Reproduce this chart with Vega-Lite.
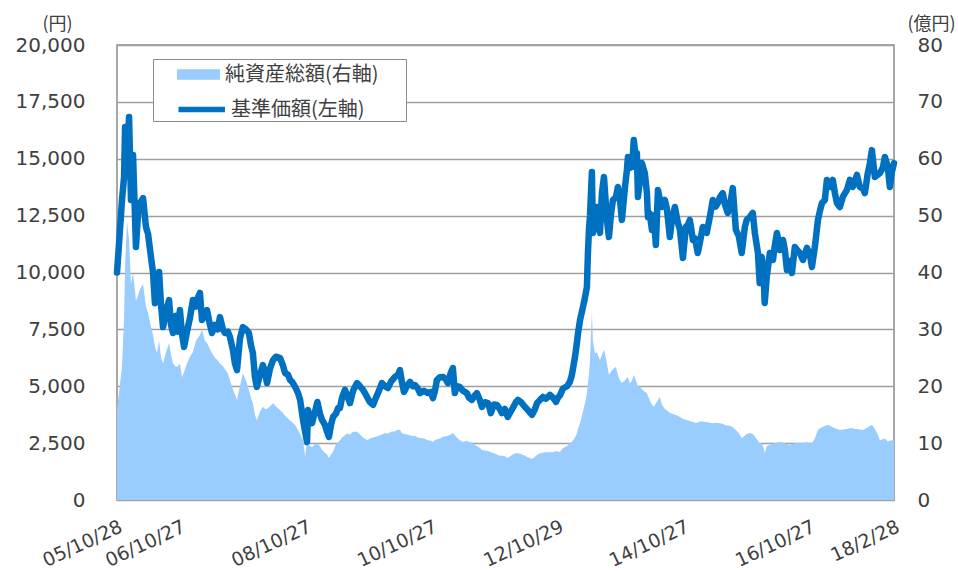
{
  "$schema": "https://vega.github.io/schema/vega-lite/v6.json",
  "width": 777,
  "height": 455,
  "autosize": {"type": "none"},
  "padding": {"left": 117, "top": 45, "right": 64, "bottom": 72},
  "background": "white",
  "config": {
    "view": {"stroke": "#8C8C8C", "strokeWidth": 1.5},
    "axis": {"labelFont": "DejaVu Sans", "labelColor": "#404040", "titleFont": "Noto Sans CJK JP", "titleColor": "#404040", "titleFontWeight": "normal"},
    "legend": {"labelFont": "Noto Sans CJK JP", "labelColor": "#404040"}
  },
  "data": {"values": [
    {"d":"2005-10-28","nav":10000,"assets":15.8},
    {"d":"2005-11-09","nav":11300,"assets":19},
    {"d":"2005-11-26","nav":13190,"assets":23.4},
    {"d":"2005-12-08","nav":14200,"assets":32},
    {"d":"2005-12-14","nav":16400,"assets":41},
    {"d":"2005-12-25","nav":15000,"assets":49},
    {"d":"2006-01-06","nav":16840,"assets":45.7},
    {"d":"2006-01-17","nav":13190,"assets":38},
    {"d":"2006-01-29","nav":15160,"assets":40},
    {"d":"2006-02-15","nav":11120,"assets":35},
    {"d":"2006-02-27","nav":12600,"assets":36},
    {"d":"2006-03-10","nav":13050,"assets":37},
    {"d":"2006-03-28","nav":13270,"assets":38},
    {"d":"2006-04-14","nav":12000,"assets":34},
    {"d":"2006-04-26","nav":11700,"assets":33},
    {"d":"2006-05-13","nav":10680,"assets":30.4},
    {"d":"2006-05-25","nav":10000,"assets":29},
    {"d":"2006-06-05","nav":8650,"assets":27},
    {"d":"2006-06-17","nav":9200,"assets":25.8},
    {"d":"2006-06-29","nav":10020,"assets":28},
    {"d":"2006-07-10","nav":8600,"assets":25},
    {"d":"2006-07-22","nav":7600,"assets":24},
    {"d":"2006-08-08","nav":8300,"assets":26},
    {"d":"2006-08-26","nav":8790,"assets":27.6},
    {"d":"2006-09-06","nav":7700,"assets":25.5},
    {"d":"2006-09-18","nav":7340,"assets":24},
    {"d":"2006-10-05","nav":8100,"assets":23.4},
    {"d":"2006-10-17","nav":7400,"assets":23.5},
    {"d":"2006-10-28","nav":8350,"assets":24},
    {"d":"2006-11-09","nav":7300,"assets":21.6},
    {"d":"2006-11-21","nav":6730,"assets":22.5},
    {"d":"2006-12-08","nav":7400,"assets":24},
    {"d":"2006-12-25","nav":8000,"assets":25.2},
    {"d":"2007-01-11","nav":8790,"assets":26},
    {"d":"2007-01-29","nav":8500,"assets":28},
    {"d":"2007-02-09","nav":8900,"assets":28.5},
    {"d":"2007-02-21","nav":9100,"assets":29},
    {"d":"2007-03-05","nav":7910,"assets":30},
    {"d":"2007-03-22","nav":8100,"assets":28},
    {"d":"2007-04-03","nav":8350,"assets":27.6},
    {"d":"2007-04-20","nav":7700,"assets":26.5},
    {"d":"2007-05-02","nav":7340,"assets":25.8},
    {"d":"2007-05-19","nav":7700,"assets":25},
    {"d":"2007-06-05","nav":7500,"assets":24.5},
    {"d":"2007-06-17","nav":8040,"assets":24},
    {"d":"2007-07-04","nav":7500,"assets":23.5},
    {"d":"2007-07-16","nav":7340,"assets":23},
    {"d":"2007-08-02","nav":7400,"assets":22.3},
    {"d":"2007-08-14","nav":7170,"assets":21},
    {"d":"2007-08-31","nav":6600,"assets":19.5},
    {"d":"2007-09-12","nav":6000,"assets":18.5},
    {"d":"2007-09-24","nav":5710,"assets":17.6},
    {"d":"2007-10-11","nav":7100,"assets":20},
    {"d":"2007-10-28","nav":7600,"assets":22.3},
    {"d":"2007-11-15","nav":7500,"assets":21},
    {"d":"2007-12-02","nav":7340,"assets":19.3},
    {"d":"2007-12-14","nav":6800,"assets":18},
    {"d":"2007-12-25","nav":6460,"assets":17},
    {"d":"2008-01-06","nav":5400,"assets":15},
    {"d":"2008-01-17","nav":4970,"assets":14},
    {"d":"2008-02-04","nav":5500,"assets":15.5},
    {"d":"2008-02-21","nav":5930,"assets":16.4},
    {"d":"2008-03-05","nav":5600,"assets":16},
    {"d":"2008-03-16","nav":5140,"assets":16},
    {"d":"2008-04-03","nav":5800,"assets":16.5},
    {"d":"2008-04-20","nav":6150,"assets":17},
    {"d":"2008-05-07","nav":6300,"assets":16.5},
    {"d":"2008-05-31","nav":6240,"assets":15.8},
    {"d":"2008-06-17","nav":5900,"assets":15.3},
    {"d":"2008-06-29","nav":5580,"assets":14.8},
    {"d":"2008-07-16","nav":5500,"assets":14.3},
    {"d":"2008-07-28","nav":5270,"assets":14},
    {"d":"2008-08-08","nav":5200,"assets":13.7},
    {"d":"2008-08-26","nav":4970,"assets":13.2},
    {"d":"2008-09-12","nav":4700,"assets":12.3},
    {"d":"2008-09-24","nav":4400,"assets":11.5},
    {"d":"2008-10-11","nav":3520,"assets":10.5},
    {"d":"2008-10-23","nav":3000,"assets":7.6},
    {"d":"2008-11-03","nav":2550,"assets":10.5},
    {"d":"2008-11-09","nav":3960,"assets":10},
    {"d":"2008-11-21","nav":3500,"assets":9.5},
    {"d":"2008-12-02","nav":3380,"assets":9.3},
    {"d":"2008-12-20","nav":3900,"assets":9.8},
    {"d":"2009-01-02","nav":4310,"assets":10},
    {"d":"2009-01-17","nav":3800,"assets":9.5},
    {"d":"2009-01-29","nav":3520,"assets":8.8},
    {"d":"2009-02-15","nav":3300,"assets":8.3},
    {"d":"2009-02-27","nav":3000,"assets":8},
    {"d":"2009-03-10","nav":2770,"assets":7.4},
    {"d":"2009-03-22","nav":3300,"assets":8},
    {"d":"2009-04-03","nav":3650,"assets":8.5},
    {"d":"2009-04-20","nav":3800,"assets":9.8},
    {"d":"2009-05-02","nav":4040,"assets":10.2},
    {"d":"2009-05-13","nav":4040,"assets":10.5},
    {"d":"2009-05-25","nav":4500,"assets":11},
    {"d":"2009-06-11","nav":4840,"assets":11.4},
    {"d":"2009-06-23","nav":4600,"assets":11.7},
    {"d":"2009-07-10","nav":4260,"assets":11.5},
    {"d":"2009-07-28","nav":4800,"assets":12},
    {"d":"2009-08-20","nav":5140,"assets":12},
    {"d":"2009-09-06","nav":5000,"assets":11.5},
    {"d":"2009-09-24","nav":4840,"assets":11},
    {"d":"2009-10-05","nav":4700,"assets":10.8},
    {"d":"2009-10-17","nav":4530,"assets":10.5},
    {"d":"2009-11-03","nav":4300,"assets":10.8},
    {"d":"2009-11-21","nav":4180,"assets":11},
    {"d":"2009-12-08","nav":4500,"assets":11.1},
    {"d":"2009-12-25","nav":4800,"assets":11.3},
    {"d":"2010-01-11","nav":5140,"assets":11.5},
    {"d":"2010-01-29","nav":5000,"assets":11.8},
    {"d":"2010-02-15","nav":4920,"assets":11.7},
    {"d":"2010-03-05","nav":5200,"assets":12},
    {"d":"2010-03-28","nav":5410,"assets":12.1},
    {"d":"2010-04-14","nav":5500,"assets":12.4},
    {"d":"2010-04-26","nav":5710,"assets":12.3},
    {"d":"2010-05-07","nav":5200,"assets":11.8},
    {"d":"2010-05-19","nav":4750,"assets":11.6},
    {"d":"2010-06-05","nav":5000,"assets":11.5},
    {"d":"2010-06-23","nav":5190,"assets":11.4},
    {"d":"2010-07-10","nav":5000,"assets":11.2},
    {"d":"2010-07-22","nav":5050,"assets":11.3},
    {"d":"2010-08-08","nav":4900,"assets":11},
    {"d":"2010-08-20","nav":4700,"assets":10.9},
    {"d":"2010-09-12","nav":4800,"assets":10.8},
    {"d":"2010-10-05","nav":4700,"assets":10.5},
    {"d":"2010-10-23","nav":4750,"assets":10.4},
    {"d":"2010-11-03","nav":4480,"assets":10.2},
    {"d":"2010-11-15","nav":4800,"assets":10.5},
    {"d":"2010-11-26","nav":5270,"assets":10.7},
    {"d":"2010-12-14","nav":5400,"assets":10.8},
    {"d":"2011-01-01","nav":5410,"assets":11.1},
    {"d":"2011-01-17","nav":5300,"assets":11.2},
    {"d":"2011-01-29","nav":5140,"assets":11.3},
    {"d":"2011-02-15","nav":5600,"assets":11.5},
    {"d":"2011-02-27","nav":5800,"assets":11.8},
    {"d":"2011-03-10","nav":4700,"assets":11.4},
    {"d":"2011-03-22","nav":5000,"assets":11},
    {"d":"2011-04-08","nav":4970,"assets":10.5},
    {"d":"2011-04-26","nav":4800,"assets":10.2},
    {"d":"2011-05-19","nav":4700,"assets":10.4},
    {"d":"2011-05-31","nav":4500,"assets":10.2},
    {"d":"2011-06-17","nav":4400,"assets":10.1},
    {"d":"2011-07-04","nav":4600,"assets":9.7},
    {"d":"2011-07-16","nav":4700,"assets":9.5},
    {"d":"2011-08-02","nav":4400,"assets":9.2},
    {"d":"2011-08-14","nav":4090,"assets":8.8},
    {"d":"2011-08-31","nav":4300,"assets":8.7},
    {"d":"2011-09-18","nav":4260,"assets":8.6},
    {"d":"2011-09-29","nav":4000,"assets":8.5},
    {"d":"2011-10-05","nav":3820,"assets":8.4},
    {"d":"2011-10-23","nav":4200,"assets":8.2},
    {"d":"2011-11-09","nav":4180,"assets":8},
    {"d":"2011-11-26","nav":4000,"assets":7.8},
    {"d":"2011-12-08","nav":3820,"assets":7.8},
    {"d":"2011-12-25","nav":4000,"assets":7.7},
    {"d":"2012-01-11","nav":3650,"assets":7.4},
    {"d":"2012-01-29","nav":3900,"assets":7.8},
    {"d":"2012-02-09","nav":4040,"assets":8},
    {"d":"2012-02-27","nav":4300,"assets":8.2},
    {"d":"2012-03-10","nav":4400,"assets":8.2},
    {"d":"2012-03-28","nav":4300,"assets":8.1},
    {"d":"2012-04-20","nav":4090,"assets":7.8},
    {"d":"2012-05-07","nav":3950,"assets":7.5},
    {"d":"2012-05-31","nav":3740,"assets":7.2},
    {"d":"2012-06-17","nav":4000,"assets":7.6},
    {"d":"2012-06-29","nav":4260,"assets":7.9},
    {"d":"2012-07-16","nav":4400,"assets":8.2},
    {"d":"2012-08-02","nav":4530,"assets":8.3},
    {"d":"2012-08-20","nav":4450,"assets":8.4},
    {"d":"2012-09-12","nav":4620,"assets":8.4},
    {"d":"2012-09-29","nav":4500,"assets":8.4},
    {"d":"2012-10-17","nav":4310,"assets":8.6},
    {"d":"2012-10-28","nav":4500,"assets":8.5},
    {"d":"2012-11-09","nav":4600,"assets":8.5},
    {"d":"2012-11-26","nav":4900,"assets":9.1},
    {"d":"2012-12-20","nav":5000,"assets":9.5},
    {"d":"2013-01-06","nav":5200,"assets":10},
    {"d":"2013-01-17","nav":5500,"assets":10.2},
    {"d":"2013-02-04","nav":6290,"assets":11},
    {"d":"2013-02-15","nav":6900,"assets":11.7},
    {"d":"2013-02-21","nav":7300,"assets":12.5},
    {"d":"2013-03-05","nav":7900,"assets":13.5},
    {"d":"2013-03-22","nav":8480,"assets":15.5},
    {"d":"2013-04-03","nav":8900,"assets":17},
    {"d":"2013-04-14","nav":9360,"assets":18.8},
    {"d":"2013-04-20","nav":10860,"assets":20.5},
    {"d":"2013-04-26","nav":11870,"assets":22},
    {"d":"2013-05-02","nav":12500,"assets":24.6},
    {"d":"2013-05-13","nav":14420,"assets":33},
    {"d":"2013-05-19","nav":11740,"assets":28},
    {"d":"2013-05-31","nav":12600,"assets":25.8},
    {"d":"2013-06-11","nav":12880,"assets":26},
    {"d":"2013-06-23","nav":12000,"assets":25},
    {"d":"2013-06-29","nav":11740,"assets":24.6},
    {"d":"2013-07-10","nav":13490,"assets":25.5},
    {"d":"2013-07-22","nav":14200,"assets":26.4},
    {"d":"2013-08-02","nav":13000,"assets":25},
    {"d":"2013-08-08","nav":12310,"assets":24},
    {"d":"2013-08-20","nav":11560,"assets":22},
    {"d":"2013-08-31","nav":12500,"assets":22.5},
    {"d":"2013-09-12","nav":13190,"assets":23},
    {"d":"2013-09-29","nav":13300,"assets":23.4},
    {"d":"2013-10-11","nav":13760,"assets":22},
    {"d":"2013-10-23","nav":13200,"assets":21},
    {"d":"2013-11-03","nav":12310,"assets":20.6},
    {"d":"2013-11-21","nav":13760,"assets":21},
    {"d":"2013-12-02","nav":14500,"assets":21.5},
    {"d":"2013-12-08","nav":15080,"assets":21.6},
    {"d":"2013-12-20","nav":14600,"assets":20.5},
    {"d":"2014-01-01","nav":14640,"assets":21},
    {"d":"2014-01-11","nav":15820,"assets":22},
    {"d":"2014-01-23","nav":15000,"assets":21},
    {"d":"2014-01-29","nav":15250,"assets":20.5},
    {"d":"2014-02-04","nav":13320,"assets":20},
    {"d":"2014-02-15","nav":14000,"assets":19.9},
    {"d":"2014-02-27","nav":14810,"assets":19.5},
    {"d":"2014-03-16","nav":14370,"assets":19},
    {"d":"2014-03-28","nav":13500,"assets":18.8},
    {"d":"2014-04-03","nav":12440,"assets":18.3},
    {"d":"2014-04-14","nav":12600,"assets":17.5},
    {"d":"2014-04-26","nav":11870,"assets":16.8},
    {"d":"2014-05-07","nav":12500,"assets":16.4},
    {"d":"2014-05-19","nav":11210,"assets":17},
    {"d":"2014-05-31","nav":13630,"assets":17.5},
    {"d":"2014-06-11","nav":13200,"assets":18.1},
    {"d":"2014-06-23","nav":12880,"assets":16.8},
    {"d":"2014-07-10","nav":13190,"assets":16},
    {"d":"2014-07-22","nav":12800,"assets":15.8},
    {"d":"2014-08-08","nav":11560,"assets":15.3},
    {"d":"2014-08-20","nav":12300,"assets":15.2},
    {"d":"2014-09-06","nav":12880,"assets":15},
    {"d":"2014-09-24","nav":12180,"assets":14.8},
    {"d":"2014-10-05","nav":11900,"assets":14.6},
    {"d":"2014-10-23","nav":10640,"assets":14.3},
    {"d":"2014-11-09","nav":12000,"assets":14.1},
    {"d":"2014-11-21","nav":12100,"assets":14},
    {"d":"2014-12-02","nav":12310,"assets":13.9},
    {"d":"2014-12-20","nav":11430,"assets":13.7},
    {"d":"2015-01-01","nav":11500,"assets":13.6},
    {"d":"2015-01-17","nav":10860,"assets":13.6},
    {"d":"2015-01-29","nav":11300,"assets":13.8},
    {"d":"2015-02-15","nav":12000,"assets":13.8},
    {"d":"2015-02-27","nav":11800,"assets":13.7},
    {"d":"2015-03-10","nav":11740,"assets":13.7},
    {"d":"2015-03-28","nav":12440,"assets":13.6},
    {"d":"2015-04-14","nav":13190,"assets":13.5},
    {"d":"2015-05-02","nav":12900,"assets":13.6},
    {"d":"2015-05-13","nav":13050,"assets":13.5},
    {"d":"2015-05-25","nav":13300,"assets":13.5},
    {"d":"2015-06-11","nav":13490,"assets":13.4},
    {"d":"2015-06-23","nav":13000,"assets":13.2},
    {"d":"2015-07-10","nav":12620,"assets":13.1},
    {"d":"2015-07-28","nav":13200,"assets":13},
    {"d":"2015-08-08","nav":13710,"assets":12.8},
    {"d":"2015-08-26","nav":11870,"assets":12.3},
    {"d":"2015-09-12","nav":11600,"assets":11.8},
    {"d":"2015-09-29","nav":10860,"assets":10.9},
    {"d":"2015-10-17","nav":12000,"assets":11.3},
    {"d":"2015-10-28","nav":12310,"assets":11.6},
    {"d":"2015-11-15","nav":12440,"assets":11.8},
    {"d":"2015-12-02","nav":12620,"assets":11.6},
    {"d":"2015-12-14","nav":11740,"assets":11.2},
    {"d":"2016-01-01","nav":10860,"assets":10.4},
    {"d":"2016-01-11","nav":9540,"assets":10},
    {"d":"2016-01-23","nav":10680,"assets":10},
    {"d":"2016-02-04","nav":9700,"assets":9},
    {"d":"2016-02-09","nav":8660,"assets":8.2},
    {"d":"2016-02-21","nav":9800,"assets":9.5},
    {"d":"2016-03-10","nav":10860,"assets":9.7},
    {"d":"2016-03-28","nav":10550,"assets":9.9},
    {"d":"2016-04-08","nav":11200,"assets":10},
    {"d":"2016-04-20","nav":11740,"assets":10.1},
    {"d":"2016-05-07","nav":10990,"assets":10.2},
    {"d":"2016-05-25","nav":11430,"assets":10.1},
    {"d":"2016-06-05","nav":11000,"assets":10},
    {"d":"2016-06-17","nav":10110,"assets":9.8},
    {"d":"2016-07-04","nav":10500,"assets":9.7},
    {"d":"2016-07-16","nav":9980,"assets":9.8},
    {"d":"2016-08-02","nav":11120,"assets":10},
    {"d":"2016-08-14","nav":11000,"assets":10.1},
    {"d":"2016-08-31","nav":10860,"assets":10},
    {"d":"2016-09-18","nav":10550,"assets":10},
    {"d":"2016-09-29","nav":10800,"assets":10.1},
    {"d":"2016-10-11","nav":11080,"assets":10.2},
    {"d":"2016-10-28","nav":10800,"assets":10},
    {"d":"2016-11-09","nav":10240,"assets":10},
    {"d":"2016-11-26","nav":11120,"assets":10.8},
    {"d":"2016-12-14","nav":12310,"assets":12.3},
    {"d":"2016-12-25","nav":12700,"assets":12.6},
    {"d":"2017-01-06","nav":13050,"assets":12.8},
    {"d":"2017-01-23","nav":13190,"assets":13},
    {"d":"2017-02-04","nav":14070,"assets":13.2},
    {"d":"2017-02-21","nav":13760,"assets":13.1},
    {"d":"2017-03-10","nav":14070,"assets":12.8},
    {"d":"2017-03-22","nav":13500,"assets":12.6},
    {"d":"2017-04-03","nav":13050,"assets":12.5},
    {"d":"2017-04-20","nav":12880,"assets":12.3},
    {"d":"2017-05-07","nav":13320,"assets":12.4},
    {"d":"2017-05-31","nav":13630,"assets":12.5},
    {"d":"2017-06-17","nav":14070,"assets":12.6},
    {"d":"2017-07-04","nav":13760,"assets":12.6},
    {"d":"2017-07-16","nav":14000,"assets":12.5},
    {"d":"2017-07-28","nav":14290,"assets":12.5},
    {"d":"2017-08-14","nav":13760,"assets":12.4},
    {"d":"2017-08-31","nav":13700,"assets":12.3},
    {"d":"2017-09-12","nav":13490,"assets":12.5},
    {"d":"2017-09-29","nav":14370,"assets":12.8},
    {"d":"2017-10-11","nav":14800,"assets":13},
    {"d":"2017-10-23","nav":15380,"assets":13.2},
    {"d":"2017-11-03","nav":14600,"assets":12.8},
    {"d":"2017-11-09","nav":14200,"assets":12.5},
    {"d":"2017-11-26","nav":14300,"assets":11.5},
    {"d":"2017-12-08","nav":14370,"assets":10.5},
    {"d":"2017-12-25","nav":14600,"assets":10.7},
    {"d":"2018-01-06","nav":15080,"assets":10.8},
    {"d":"2018-01-17","nav":14800,"assets":10.5},
    {"d":"2018-01-23","nav":14640,"assets":10.3},
    {"d":"2018-02-04","nav":13760,"assets":10.4},
    {"d":"2018-02-15","nav":14400,"assets":10.5},
    {"d":"2018-02-28","nav":14810,"assets":10.5}
  ]},
  "encoding": {
    "x": {
      "field": "d", "type": "temporal",
      "scale": {"type": "utc", "domain": [{"year": 2005, "month": 10, "date": 28, "utc": true}, {"year": 2018, "month": 2, "date": 28, "utc": true}], "nice": false, "padding": 0},
      "axis": {
        "title": null, "grid": false, "domain": false, "ticks": false,
        "values": [
          {"year": 2005, "month": 10, "date": 28, "utc": true},
          {"year": 2006, "month": 10, "date": 27, "utc": true},
          {"year": 2008, "month": 10, "date": 27, "utc": true},
          {"year": 2010, "month": 10, "date": 27, "utc": true},
          {"year": 2012, "month": 10, "date": 29, "utc": true},
          {"year": 2014, "month": 10, "date": 27, "utc": true},
          {"year": 2016, "month": 10, "date": 27, "utc": true},
          {"year": 2018, "month": 2, "date": 28, "utc": true}
        ],
        "labelExpr": "utcFormat(datum.value, '%y/%-m/%d')",
        "labelAngle": -25, "labelFontSize": 19, "labelPadding": 17, "labelOverlap": false, "labelFlush": false, "labelBound": false
      }
    }
  },
  "layer": [
    {
      "mark": {"type": "area", "interpolate": "linear", "opacity": 1},
      "encoding": {
        "y": {
          "field": "assets", "type": "quantitative",
          "scale": {"domain": [0, 80], "nice": false, "zero": true},
          "axis": {
            "orient": "right", "values": [0, 10, 20, 30, 40, 50, 60, 70, 80],
            "grid": false, "domain": false, "ticks": false,
            "labelFontSize": 20, "labelPadding": 23,
            "title": "(億円)", "titleAngle": 0, "titleFontSize": 18, "titleX": 37, "titleY": -21, "titleAlign": "center", "titleBaseline": "middle"
          }
        },
        "fill": {
          "datum": "純資産総額(右軸)",
          "scale": {"range": ["#99CCFF"]},
          "legend": {
            "title": null, "orient": "none", "legendX": 36, "legendY": 14,
            "strokeColor": "#8C8C8C", "fillColor": "white", "padding": 0,
            "labelFontSize": 20, "labelOffset": 41,
            "symbolSize": 961,
            "symbolType": "M0.55,-0.34H3.32V0.34H0.55Z M15.26,0L15.26,0.01 M0.55,3.0L0.56,3.0",
            "symbolStrokeWidth": 0,
            "symbolOpacity": 1
          }
        }
      }
    },
    {
      "mark": {"type": "line", "strokeWidth": 6.5, "strokeJoin": "round", "strokeCap": "round", "interpolate": "linear"},
      "encoding": {
        "y": {
          "field": "nav", "type": "quantitative",
          "scale": {"domain": [0, 20000], "nice": false, "zero": true},
          "axis": {
            "orient": "left", "values": [0, 2500, 5000, 7500, 10000, 12500, 15000, 17500, 20000],
            "labelExpr": "format(datum.value, ',')",
            "grid": true, "gridColor": "#A0A0A0", "gridWidth": 1.5, "domain": false, "ticks": false,
            "labelFontSize": 20, "labelPadding": 32,
            "title": "(円)", "titleAngle": 0, "titleFontSize": 18, "titleX": -60, "titleY": -21, "titleAlign": "center", "titleBaseline": "middle"
          }
        },
        "stroke": {
          "datum": "基準価額(左軸)",
          "scale": {"range": ["#0070C0"]},
          "legend": {
            "title": null, "orient": "none", "legendX": 36, "legendY": 46,
            "padding": 0,
            "labelFontSize": 20, "labelOffset": 41,
            "symbolSize": 961,
            "symbolType": "M0.45,0H3.45",
            "symbolStrokeWidth": 5.5,
            "symbolOpacity": 1
          }
        }
      }
    }
  ],
  "resolve": {"scale": {"y": "independent"}, "axis": {"y": "independent"}}
}
